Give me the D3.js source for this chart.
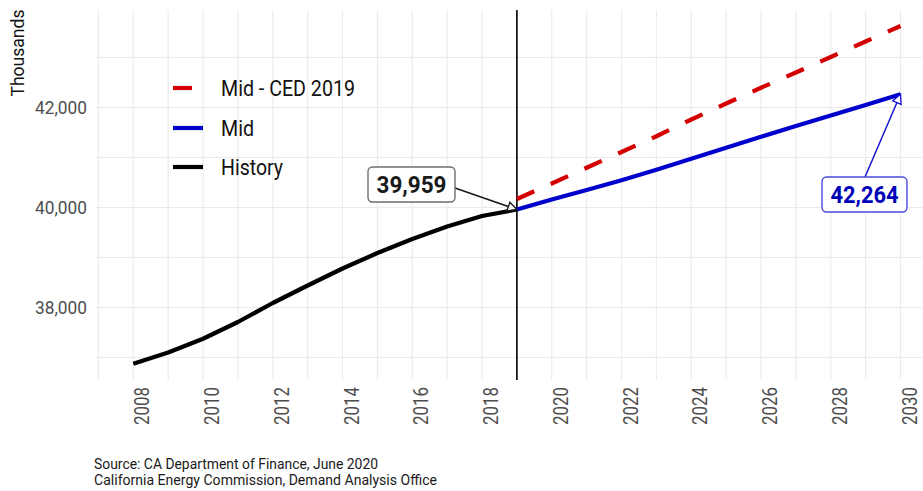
<!DOCTYPE html>
<html>
<head>
<meta charset="utf-8">
<script src="https://cdn.jsdelivr.net/npm/d3@7"></script>
<style>
  html, body { margin: 0; padding: 0; background: #fff; }
  svg { display: block; font-family: Roboto, "Noto Sans", sans-serif; }
</style>
</head>
<body>
<svg id="chart" width="923" height="491"></svg>
<script>
// ---------------- data ----------------
const historyYears = [2008, 2009, 2010, 2011, 2012, 2013, 2014, 2015, 2016, 2017, 2018, 2019];
const historyValues = [36874, 37100, 37375, 37710, 38090, 38440, 38780, 39090, 39370, 39620, 39830, 39959];

const forecastYears = [2019, 2020, 2021, 2022, 2023, 2024, 2025, 2026, 2027, 2028, 2029, 2030];
const midValues = [39959, 40160, 40350, 40545, 40755, 40975, 41195, 41415, 41630, 41840, 42050, 42264];
const cedValues = [40170, 40480, 40795, 41110, 41425, 41760, 42080, 42395, 42700, 43010, 43320, 43630];

const xTickLabels = [2008, 2010, 2012, 2014, 2016, 2018, 2020, 2022, 2024, 2026, 2028, 2030];
const yTickLabels = [38000, 40000, 42000];
const yGridValues = [37000, 38000, 39000, 40000, 41000, 42000, 43000];
const xGridYears = d3.range(2007, 2032);
const dividerYear = 2019;

const seriesNames = ["Mid - CED 2019", "Mid", "History"];
const seriesColors = ["#d40000", "#0000cd", "#000000"];

const yAxisTitle = "Thousands";
const sourceLines = ["Source: CA Department of Finance, June 2020",
                     "California Energy Commission, Demand Analysis Office"];

// ---------------- layout ----------------
const svg = d3.select("#chart");
const panel = { left: 95, top: 10, right: 923, bottom: 380 };

const x = d3.scaleLinear().domain([2008, 2030]).range([133.3, 900.5]);
const y = d3.scaleLinear().domain([37000, 43000]).range([357.5, 57.5]);

function fit(sel, w) {
  sel.attr("textLength", w).attr("lengthAdjust", "spacingAndGlyphs");
  return sel;
}

// clip
svg.append("defs").append("clipPath").attr("id", "panelClip")
  .append("rect").attr("x", panel.left).attr("y", panel.top)
  .attr("width", panel.right - panel.left).attr("height", panel.bottom - panel.top);

// grid
const grid = svg.append("g").attr("clip-path", "url(#panelClip)");
grid.selectAll("line.h").data(yGridValues).join("line")
  .attr("x1", panel.left).attr("x2", panel.right)
  .attr("y1", d => y(d)).attr("y2", d => y(d))
  .attr("stroke", "#ebebeb").attr("stroke-width", 1.1);
grid.selectAll("line.v").data(xGridYears).join("line")
  .attr("x1", d => x(d)).attr("x2", d => x(d))
  .attr("y1", panel.top).attr("y2", panel.bottom)
  .attr("stroke", "#ebebeb").attr("stroke-width", 1.1);

// y axis
const yAxis = svg.append("g").attr("transform", `translate(${panel.left},0)`)
  .call(d3.axisLeft(y).tickValues(yTickLabels).tickFormat(d3.format(",")).tickSize(0).tickPadding(8));
yAxis.select(".domain").remove();
yAxis.selectAll("text")
  .attr("fill", "#4d4d4d").attr("font-size", 18).attr("font-family", "Roboto")
  .attr("dy", "0.36em")
  .call(s => fit(s, 52));

// x axis
const xAxis = svg.append("g").attr("transform", `translate(0,${panel.bottom})`)
  .call(d3.axisBottom(x).tickValues(xTickLabels).tickFormat(d3.format("d")).tickSize(0));
xAxis.select(".domain").remove();
xAxis.selectAll("text")
  .attr("fill", "#4d4d4d").attr("font-size", 20).attr("font-family", "Roboto")
  .attr("transform", "rotate(-90)")
  .attr("text-anchor", "end")
  .attr("x", -7).attr("y", 15.5).attr("dy", 0)
  .call(s => fit(s, 38));

// y axis title
svg.append("text")
  .attr("transform", "translate(24,53) rotate(-90)")
  .attr("text-anchor", "middle")
  .attr("font-size", 18).attr("fill", "#111")
  .text(yAxisTitle)
  .call(s => fit(s, 87));

// vertical divider
svg.append("line")
  .attr("x1", x(dividerYear)).attr("x2", x(dividerYear))
  .attr("y1", panel.top).attr("y2", panel.bottom)
  .attr("stroke", "#000").attr("stroke-width", 1.6);

// lines
const line = d3.line().x(d => x(d[0])).y(d => y(d[1]));
const lines = svg.append("g").attr("clip-path", "url(#panelClip)");

lines.append("path")
  .datum(historyYears.map((yr, i) => [yr, historyValues[i]]))
  .attr("d", line).attr("fill", "none")
  .attr("stroke", seriesColors[2]).attr("stroke-width", 4.2)
  .attr("stroke-linejoin", "round");

lines.append("path")
  .datum(forecastYears.map((yr, i) => [yr, midValues[i]]))
  .attr("d", line).attr("fill", "none")
  .attr("stroke", seriesColors[1]).attr("stroke-width", 4.2)
  .attr("stroke-linejoin", "round");

lines.append("path")
  .datum(forecastYears.map((yr, i) => [yr, cedValues[i]]))
  .attr("d", line).attr("fill", "none")
  .attr("stroke", seriesColors[0]).attr("stroke-width", 4.2)
  .attr("stroke-dasharray", "19,18");

// legend
const legend = svg.append("g");
const legendRows = [88, 128, 167];
const legendWidths = [134, 33, 62];
seriesNames.forEach((name, i) => {
  legend.append("line")
    .attr("x1", 173).attr("x2", 203)
    .attr("y1", legendRows[i]).attr("y2", legendRows[i])
    .attr("stroke", seriesColors[i]).attr("stroke-width", 4.2)
    .attr("stroke-dasharray", i === 0 ? "19,18" : null);
  legend.append("text")
    .attr("x", 221).attr("y", legendRows[i]).attr("dy", "0.36em")
    .attr("font-size", 22).attr("fill", "#111")
    .text(name)
    .call(s => fit(s, legendWidths[i]));
});

// annotations
function arrowHead(g, tx, ty, fromX, fromY, color) {
  const ang = Math.atan2(ty - fromY, tx - fromX);
  const len = 9, half = 4.5;
  const bx = tx - len * Math.cos(ang), by = ty - len * Math.sin(ang);
  const px = -Math.sin(ang), py = Math.cos(ang);
  g.append("path")
    .attr("d", `M${tx},${ty} L${bx + half * px},${by + half * py} L${bx - half * px},${by - half * py} Z`)
    .attr("fill", "#fff").attr("stroke", color).attr("stroke-width", 1.4)
    .attr("stroke-linejoin", "miter");
}

function label(box, from, tip, text, textColor, borderColor, lineColor, textW) {
  const g = svg.append("g");
  g.append("line")
    .attr("x1", from[0]).attr("y1", from[1])
    .attr("x2", tip[0]).attr("y2", tip[1])
    .attr("stroke", lineColor).attr("stroke-width", 1.5);
  arrowHead(g, tip[0], tip[1], from[0], from[1], lineColor);
  g.append("rect")
    .attr("x", box.x).attr("y", box.y).attr("width", box.w).attr("height", box.h)
    .attr("rx", 4.5).attr("fill", "#fff")
    .attr("stroke", borderColor).attr("stroke-width", 1.4);
  g.append("text")
    .attr("x", box.x + box.w / 2).attr("y", box.y + box.h / 2).attr("dy", "0.36em")
    .attr("text-anchor", "middle")
    .attr("font-size", 23).attr("font-weight", "bold").attr("fill", textColor)
    .text(text)
    .call(s => fit(s, textW));
}

const lastHistYear = historyYears[historyYears.length - 1];
const lastHist = historyValues[historyValues.length - 1];
label({ x: 368, y: 167, w: 87, h: 35 }, [455, 188],
      [x(lastHistYear), y(lastHist)], d3.format(",")(lastHist),
      "#1a1a1a", "#6e6e6e", "#1a1a1a", 70);

const lastMidYear = forecastYears[forecastYears.length - 1];
const lastMid = midValues[midValues.length - 1];
label({ x: 822, y: 177, w: 85, h: 35 }, [865, 177],
      [x(lastMidYear), y(lastMid)], d3.format(",")(lastMid),
      "#0000b8", "#4a4ae0", "#1515d0", 68);

// source
const src = svg.append("g");
const srcWidths = [284, 343];
sourceLines.forEach((t, i) => {
  src.append("text")
    .attr("x", 94).attr("y", 469 + i * 15.5)
    .attr("font-size", 14).attr("fill", "#1a1a1a")
    .text(t)
    .call(s => fit(s, srcWidths[i]));
});
</script>
</body>
</html>
